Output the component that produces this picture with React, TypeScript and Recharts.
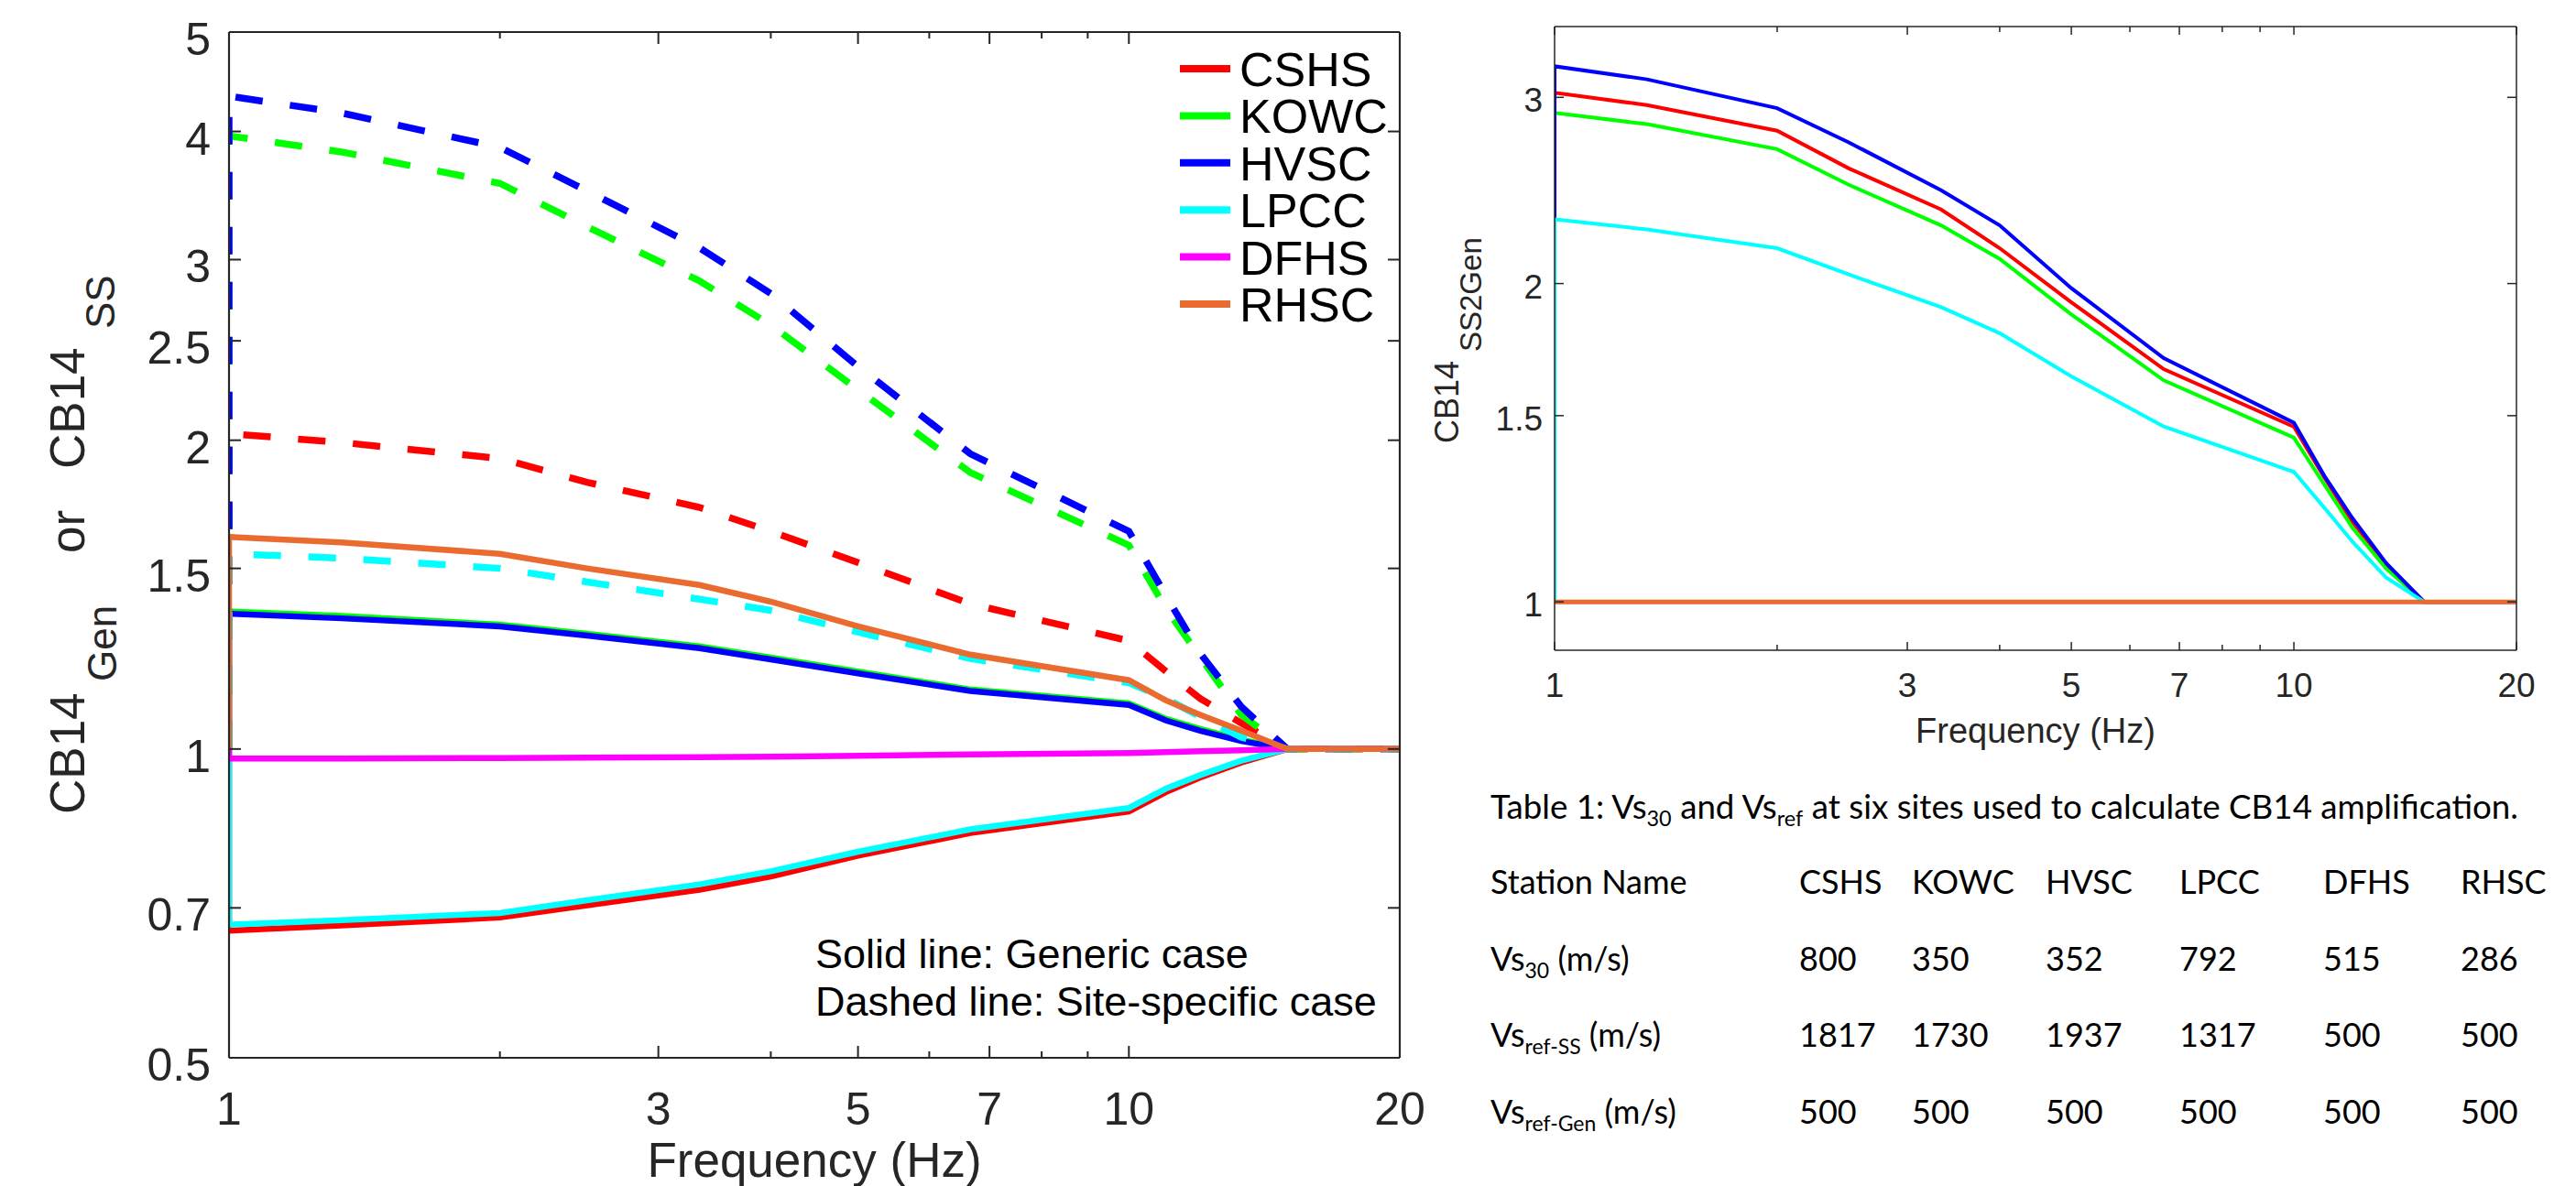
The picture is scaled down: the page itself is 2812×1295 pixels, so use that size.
import React from 'react';
import { LineChart, Line, XAxis, YAxis } from 'recharts';

// ---------- data ----------
const FREQ = [1, 1, 1.333, 2, 2.5, 3.333, 4, 5, 6.667, 10, 11, 12, 13.33, 15, 20];
const STATIONS = ['CSHS', 'KOWC', 'HVSC', 'LPCC', 'DFHS', 'RHSC'];
const COLORS = ['#FF0000', '#00FF00', '#0000FF', '#00FFFF', '#FF00FF', '#E96B2F'];

// Generic case (solid lines, left panel)
const GEN_CSHS = [1, 0.665, 0.673, 0.685, 0.704, 0.729, 0.751, 0.787, 0.828, 0.869, 0.908, 0.938, 0.970, 1, 1];
const GEN_KOWC = [1, 1.362, 1.348, 1.322, 1.295, 1.259, 1.228, 1.190, 1.143, 1.108, 1.070, 1.046, 1.021, 1, 1];
const GEN_HVSC = [1, 1.355, 1.341, 1.317, 1.290, 1.254, 1.223, 1.185, 1.139, 1.104, 1.066, 1.042, 1.018, 1, 1];
const GEN_LPCC = [1, 0.674, 0.681, 0.692, 0.712, 0.738, 0.760, 0.794, 0.835, 0.876, 0.915, 0.943, 0.974, 1, 1];
const GEN_DFHS = [1, 0.979, 0.979, 0.980, 0.981, 0.982, 0.983, 0.985, 0.988, 0.991, 0.993, 0.995, 0.997, 1, 1];
const GEN_RHSC = [1, 1.610, 1.590, 1.550, 1.500, 1.445, 1.392, 1.317, 1.236, 1.167, 1.115, 1.080, 1.042, 1, 1];

// Site-specific case (dashed lines, left panel)
const SS_CSHS = [1, 2.03, 1.99, 1.92, 1.82, 1.72, 1.63, 1.52, 1.385, 1.275, 1.19, 1.12, 1.06, 1, 1];
const SS_KOWC = [1, 3.96, 3.82, 3.56, 3.23, 2.86, 2.59, 2.24, 1.86, 1.58, 1.37, 1.23, 1.08, 1, 1];
const SS_HVSC = [1, 4.33, 4.17, 3.86, 3.50, 3.08, 2.78, 2.36, 1.94, 1.63, 1.41, 1.24, 1.10, 1, 1];
const SS_LPCC = [1, 1.55, 1.535, 1.50, 1.455, 1.40, 1.365, 1.30, 1.225, 1.16, 1.12, 1.075, 1.027, 1, 1];

// SS / Gen ratio (right panel)
const R_CSHS = [1, 3.03, 2.95, 2.79, 2.57, 2.35, 2.16, 1.92, 1.66, 1.464, 1.31, 1.19, 1.085, 1, 1];
const R_KOWC = [1, 2.90, 2.83, 2.68, 2.48, 2.27, 2.11, 1.87, 1.62, 1.43, 1.29, 1.175, 1.075, 1, 1];
const R_HVSC = [1, 3.21, 3.12, 2.93, 2.72, 2.45, 2.27, 1.98, 1.70, 1.477, 1.315, 1.20, 1.088, 1, 1];
const R_LPCC = [1, 2.30, 2.25, 2.16, 2.04, 1.90, 1.795, 1.634, 1.465, 1.327, 1.227, 1.14, 1.054, 1, 1];
const R_DFHS = [1, 1, 1, 1, 1, 1, 1, 1, 1, 1, 1, 1, 1, 1, 1];
const R_RHSC = [1, 1, 1, 1, 1, 1, 1, 1, 1, 1, 1, 1, 1, 1, 1];

// axis ticks
const X_TICKS = [1, 2, 3, 4, 5, 6, 7, 8, 9, 10, 20];
const X_LABELS = [1, 3, 5, 7, 10, 20];
const Y_TICKS_L = [0.5, 0.7, 1, 1.5, 2, 2.5, 3, 4, 5];
const Y_TICKS_R = [1, 1.5, 2, 3];

// table
const VS30 = [800, 350, 352, 792, 515, 286];
const VSREF_SS = [1817, 1730, 1937, 1317, 500, 500];
const VSREF_GEN = [500, 500, 500, 500, 500, 500];

// ---------- helpers ----------
const AX = '#262626';
const FONT = '"Liberation Sans", Arial, Helvetica, sans-serif';
const TFONT = 'Lato, "Open Sans", sans-serif';

const toPts = (vals: number[]) => FREQ.map((f, i) => ({ f, v: vals[i] }));

const GEN = [GEN_CSHS, GEN_KOWC, GEN_HVSC, GEN_LPCC, GEN_DFHS, GEN_RHSC];
const SS: (number[] | null)[] = [SS_CSHS, SS_KOWC, SS_HVSC, SS_LPCC, null, null];
const RATIO = [R_CSHS, R_KOWC, R_HVSC, R_LPCC, R_DFHS, R_RHSC];

type TickCfg = {
  side: 'bottom' | 'top' | 'left' | 'right';
  labels: number[];
  major: number;
  minor: number;
  show: boolean;
  fontSize: number;
  off: number;
  base?: number;
  sw: number;
};

const makeTick = (c: TickCfg) => (props: any) => {
  const { x, y, payload } = props;
  const v = payload.value;
  const isMajor = c.labels.includes(v);
  const len = isMajor ? c.major : c.minor;
  const txtStyle = { fontFamily: FONT, fontSize: c.fontSize, fill: AX };
  if (c.side === 'bottom') {
    return (
      <g>
        <line x1={x} x2={x} y1={y} y2={y - len} stroke={AX} strokeWidth={c.sw} />
        {c.show && isMajor ? (
          <text x={x} y={y + c.off} textAnchor="middle" style={txtStyle}>{String(v)}</text>
        ) : null}
      </g>
    );
  }
  if (c.side === 'top') {
    return <line x1={x} x2={x} y1={y} y2={y + len} stroke={AX} strokeWidth={c.sw} />;
  }
  if (c.side === 'left') {
    return (
      <g>
        <line x1={x} x2={x + len} y1={y} y2={y} stroke={AX} strokeWidth={c.sw} />
        {c.show && isMajor ? (
          <text x={x - c.off} y={y + (c.base || 0)} textAnchor="end" style={txtStyle}>{String(v)}</text>
        ) : null}
      </g>
    );
  }
  return <line x1={x} x2={x - len} y1={y} y2={y} stroke={AX} strokeWidth={c.sw} />;
};

// ---------- left chart ----------
function LeftChart() {
  const axisLine = { stroke: AX, strokeWidth: 2.2 };
  const common = { tickSize: 0, tickMargin: 0, tickLine: false, axisLine, interval: 0 as const };
  const lines: React.ReactNode[] = [];
  STATIONS.forEach((s, i) => {
    lines.push(
      <Line key={`g-${s}`} data={toPts(GEN[i])} dataKey="v" xAxisId="b" yAxisId="l" type="linear"
        stroke={COLORS[i]} strokeWidth={6.5} dot={false} activeDot={false} isAnimationActive={false} name={s} />
    );
    const ss = SS[i];
    if (ss) {
      lines.push(
        <Line key={`s-${s}`} data={toPts(ss)} dataKey="v" xAxisId="b" yAxisId="l" type="linear"
          stroke={COLORS[i]} strokeWidth={7.5} strokeDasharray="30 30" dot={false} activeDot={false}
          isAnimationActive={false} name={`${s} SS`} />
      );
    }
  });
  return (
    <LineChart width={1560} height={1295} margin={{ top: 34, right: 31, bottom: 139, left: 249 }}>
      <XAxis xAxisId="b" dataKey="f" type="number" scale="log" domain={[1, 20]} ticks={X_TICKS}
        orientation="bottom" height={1} allowDataOverflow {...common}
        tick={makeTick({ side: 'bottom', labels: X_LABELS, major: 13, minor: 7, show: true, fontSize: 50, off: 73, sw: 2 })} />
      <XAxis xAxisId="t" dataKey="f" type="number" scale="log" domain={[1, 20]} ticks={X_TICKS}
        orientation="top" height={1} allowDataOverflow {...common}
        tick={makeTick({ side: 'top', labels: X_LABELS, major: 13, minor: 7, show: false, fontSize: 50, off: 0, sw: 2 })} />
      <YAxis yAxisId="l" type="number" scale="log" domain={[0.5, 5]} ticks={Y_TICKS_L}
        orientation="left" width={1} allowDataOverflow {...common}
        tick={makeTick({ side: 'left', labels: Y_TICKS_L, major: 13, minor: 13, show: true, fontSize: 50, off: 20, base: 25, sw: 2 })} />
      <YAxis yAxisId="r" type="number" scale="log" domain={[0.5, 5]} ticks={Y_TICKS_L}
        orientation="right" width={1} allowDataOverflow {...common}
        tick={makeTick({ side: 'right', labels: Y_TICKS_L, major: 13, minor: 13, show: false, fontSize: 50, off: 0, sw: 2 })} />
      {lines}
    </LineChart>
  );
}

// ---------- right chart ----------
function RightChart() {
  const axisLine = { stroke: AX, strokeWidth: 1.5 };
  const common = { tickSize: 0, tickMargin: 0, tickLine: false, axisLine, interval: 0 as const };
  return (
    <LineChart width={1252} height={800} margin={{ top: 28, right: 64, bottom: 89, left: 136 }}>
      <XAxis xAxisId="b" dataKey="f" type="number" scale="log" domain={[1, 20]} ticks={X_TICKS}
        orientation="bottom" height={1} allowDataOverflow {...common}
        tick={makeTick({ side: 'bottom', labels: X_LABELS, major: 9, minor: 6, show: true, fontSize: 37, off: 51, sw: 1.5 })} />
      <XAxis xAxisId="t" dataKey="f" type="number" scale="log" domain={[1, 20]} ticks={X_TICKS}
        orientation="top" height={1} allowDataOverflow {...common}
        tick={makeTick({ side: 'top', labels: X_LABELS, major: 9, minor: 6, show: false, fontSize: 37, off: 0, sw: 1.5 })} />
      <YAxis yAxisId="l" type="number" scale="log" domain={[0.9, 3.5]} ticks={Y_TICKS_R}
        orientation="left" width={1} allowDataOverflow {...common}
        tick={makeTick({ side: 'left', labels: Y_TICKS_R, major: 10, minor: 10, show: true, fontSize: 37, off: 13, base: 16, sw: 1.5 })} />
      <YAxis yAxisId="r" type="number" scale="log" domain={[0.9, 3.5]} ticks={Y_TICKS_R}
        orientation="right" width={1} allowDataOverflow {...common}
        tick={makeTick({ side: 'right', labels: Y_TICKS_R, major: 10, minor: 10, show: false, fontSize: 37, off: 0, sw: 1.5 })} />
      {STATIONS.map((s, i) => (
        <Line key={s} data={toPts(RATIO[i])} dataKey="v" xAxisId="b" yAxisId="l" type="linear"
          stroke={COLORS[i]} strokeWidth={i === 5 ? 5 : 4} dot={false} activeDot={false}
          isAnimationActive={false} name={s} />
      ))}
    </LineChart>
  );
}

// ---------- overlay texts ----------
function Overlay() {
  const rowY = STATIONS.map((_, i) => 75 + i * 51.4);
  const rows: { main: string; sub?: string; vals: (string | number)[] }[] = [
    { main: 'Station Name', vals: STATIONS },
    { main: 'Vs', sub: '30', vals: VS30 },
    { main: 'Vs', sub: 'ref-SS', vals: VSREF_SS },
    { main: 'Vs', sub: 'ref-Gen', vals: VSREF_GEN },
  ];
  const rowBase = [976, 1060, 1143, 1227];
  const colX = [1964, 2087, 2233, 2379, 2536, 2686];
  const tStyle = { fontFamily: TFONT, fontSize: 36, fill: '#000' };
  return (
    <svg width={2812} height={1295} style={{ position: 'absolute', left: 0, top: 0, pointerEvents: 'none' }}>
      {/* legend */}
      {STATIONS.map((s, i) => (
        <g key={s}>
          <line x1={1288} x2={1343} y1={rowY[i]} y2={rowY[i]} stroke={COLORS[i]} strokeWidth={8} />
          <text x={1353} y={rowY[i] + 19} style={{ fontFamily: FONT, fontSize: 52, fill: '#000' }}>{s}</text>
        </g>
      ))}
      {/* annotation */}
      <text x={890} y={1057} style={{ fontFamily: FONT, fontSize: 45, fill: '#000' }}>Solid line: Generic case</text>
      <text x={890} y={1109} style={{ fontFamily: FONT, fontSize: 45, fill: '#000' }}>Dashed line: Site-specific case</text>
      {/* left axis labels */}
      <text transform="rotate(-90)" style={{ fontFamily: FONT, fontSize: 53, fill: AX }}>
        <tspan x={-889} y={92}>CB14</tspan>
        <tspan x={-744} y={127} style={{ fontSize: 44 }}>Gen</tspan>
        <tspan x={-604} y={92}>or</tspan>
        <tspan x={-512} y={92}>CB14</tspan>
        <tspan x={-359} y={125} style={{ fontSize: 44 }}>SS</tspan>
      </text>
      <text x={889} y={1285} textAnchor="middle" style={{ fontFamily: FONT, fontSize: 53, fill: AX }}>Frequency (Hz)</text>
      {/* right axis labels */}
      <text transform="rotate(-90)" style={{ fontFamily: FONT, fontSize: 36, fill: AX }}>
        <tspan x={-484} y={1592}>CB14</tspan>
        <tspan x={-384} y={1617} style={{ fontSize: 33 }}>SS2Gen</tspan>
      </text>
      <text x={2222} y={811} textAnchor="middle" style={{ fontFamily: FONT, fontSize: 38, fill: AX }}>Frequency (Hz)</text>
      {/* table */}
      <text x={1627} y={894} textLength={1122} lengthAdjust="spacingAndGlyphs" style={tStyle}>
        Table 1: Vs<tspan dy={8} style={{ fontSize: 23 }}>30</tspan><tspan dy={-8}> and Vs</tspan><tspan dy={8} style={{ fontSize: 23 }}>ref</tspan><tspan dy={-8}> at six sites used to calculate CB14 amplification.</tspan>
      </text>
      {rows.map((r, ri) => (
        <g key={ri}>
          <text x={1627} y={rowBase[ri]} style={tStyle}>
            {r.main}
            {r.sub ? <tspan dy={8} style={{ fontSize: 23 }}>{r.sub}</tspan> : null}
            {r.sub ? <tspan dy={-8}> (m/s)</tspan> : null}
          </text>
          {r.vals.map((v, ci) => (
            <text key={ci} x={colX[ci]} y={rowBase[ri]} style={tStyle}>{String(v)}</text>
          ))}
        </g>
      ))}
    </svg>
  );
}

export default function App() {
  return (
    <div style={{ position: 'absolute', left: 0, top: 0, width: 2812, height: 1295, background: '#fff', overflow: 'hidden' }}>
      <div style={{ position: 'absolute', left: 0, top: 0 }}>
        <LeftChart />
      </div>
      <div style={{ position: 'absolute', left: 1560, top: 0 }}>
        <RightChart />
      </div>
      <Overlay />
    </div>
  );
}
